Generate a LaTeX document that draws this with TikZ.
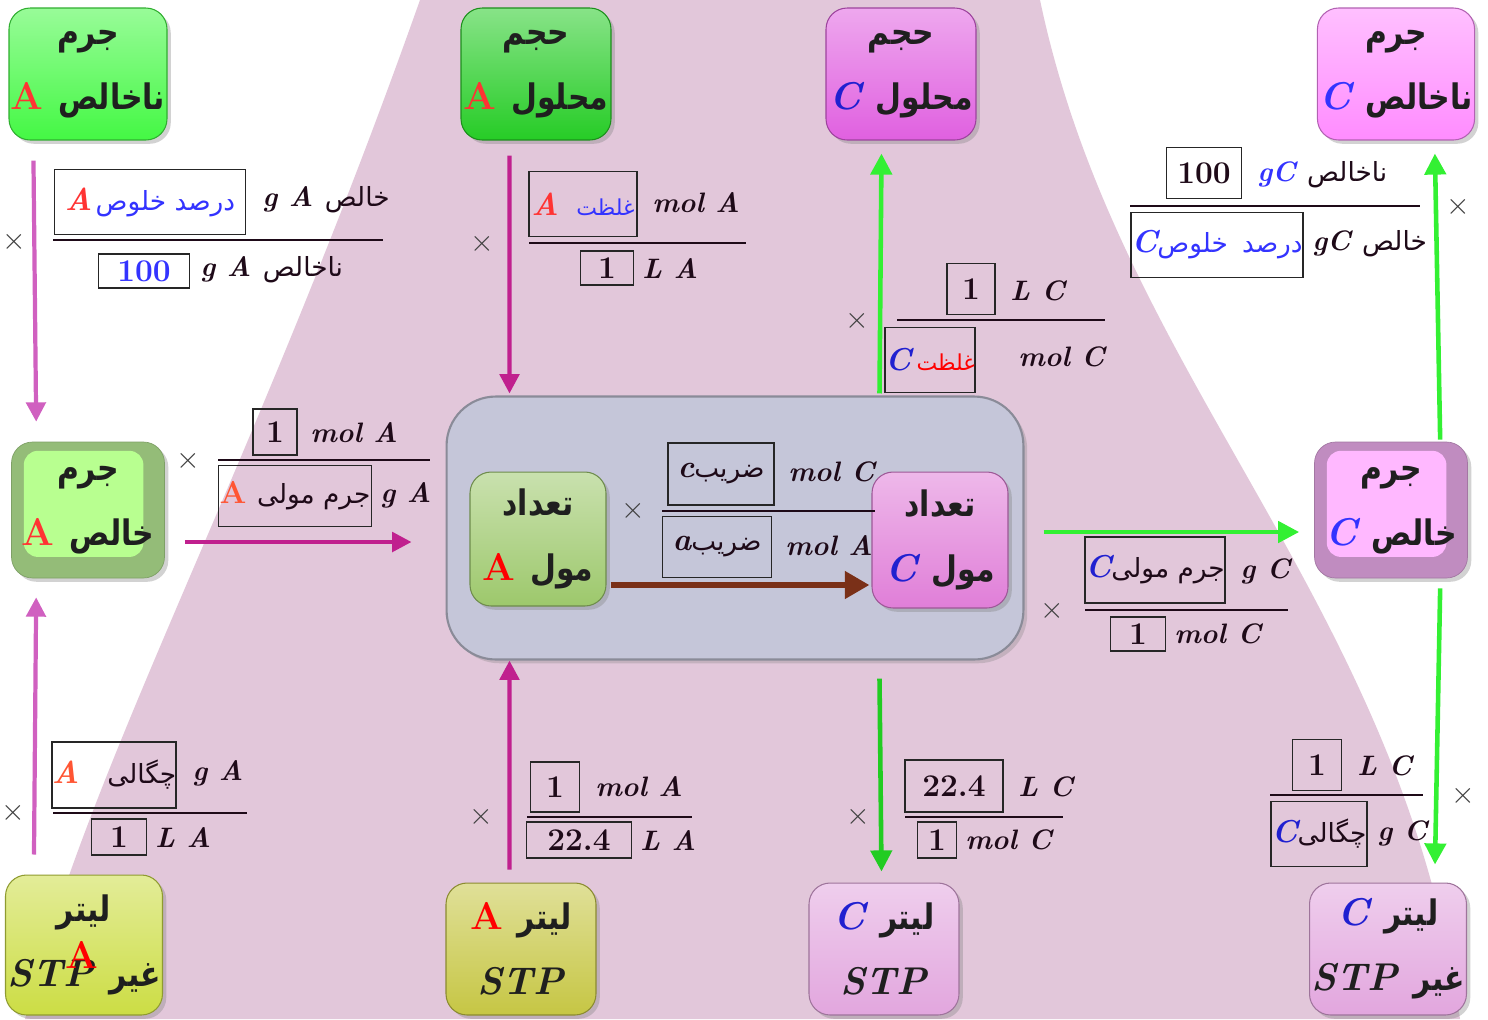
\documentclass[tikz,border=0pt]{standalone}
\usepackage{fontspec}
\usepackage{xcolor}
\usetikzlibrary{arrows.meta,calc,shadows}
\newfontfamily\arabicfont[Script=Arabic]{DejaVu Sans}
\newfontfamily\arabicbold[Script=Arabic,FakeStretch=0.85]{DejaVu Sans}
\TeXXeTstate=1
\newcommand{\prs}[1]{{\arabicfont\mdseries\upshape\fontsize{15}{18}\selectfont\beginR #1\endR}}
\newcommand{\prss}[1]{{\arabicfont\mdseries\upshape\fontsize{12.5}{16}\selectfont\beginR #1\endR}}
\newcommand{\prsb}[1]{{\arabicbold\bfseries\upshape\fontsize{20}{37}\selectfont\beginR #1\endR}}
\newcommand{\bim}[1]{{\bfseries\itshape #1}}
\definecolor{bgpink}{HTML}{E2C7DA}
\definecolor{tgreen}{HTML}{44F844}
\definecolor{tdgreen}{HTML}{26CC26}
\definecolor{tmag}{HTML}{E060E0}
\definecolor{tlmag}{HTML}{FF8CFF}
\definecolor{tlgreen}{HTML}{B8FF90}
\definecolor{rimgreen}{HTML}{94BC78}
\definecolor{tlpink}{HTML}{FFB8FF}
\definecolor{rimpink}{HTML}{C08CC0}
\definecolor{corefill}{HTML}{C5C6D9}
\definecolor{tolive}{HTML}{9DC86C}
\definecolor{tpinkc}{HTML}{E07ED8}
\definecolor{tyel}{HTML}{CCDD44}
\definecolor{tyel2}{HTML}{C6C644}
\definecolor{tlilac}{HTML}{E2A6DE}
\definecolor{amag}{HTML}{D060C0}
\definecolor{admag}{HTML}{C0208E}
\definecolor{agreen}{HTML}{33F033}
\definecolor{adgreen}{HTML}{22CC22}
\definecolor{abrown}{HTML}{7A3018}
\definecolor{tred}{HTML}{FF3333}
\definecolor{tblue}{HTML}{3333FF}
\definecolor{cblue}{HTML}{2020D0}
\definecolor{torange}{HTML}{FF5533}
\definecolor{fink}{HTML}{1E0A18}

\tikzset{
	tile/.style={rounded corners=12pt, minimum width=3cm, minimum height=2.64cm, draw=#1!70!black, line width=.6pt,
		top color=#1!55!white, bottom color=#1, drop shadow={opacity=.35}, align=center, text=black!88,
		inner sep=1pt, font=\fontsize{22}{37}\selectfont\bfseries},
	bevel/.style 2 args={rounded corners=12pt, minimum width=3.06cm, minimum height=2.72cm, fill=#2, draw=#2!85!black,
		drop shadow={opacity=.35}, align=center, text=black!88, inner sep=1pt, font=\fontsize{22}{37}\selectfont\bfseries,
		path picture={\fill[#1, rounded corners=8pt] ([xshift=7pt,yshift=-5pt]path picture bounding box.north west)
			rectangle ([xshift=-12pt,yshift=12pt]path picture bounding box.south east);}},
	corebox/.style={rounded corners=28pt, minimum width=11.54cm, minimum height=5.26cm, fill=corefill,
		draw=corefill!70!black, line width=1.2pt, drop shadow={opacity=.3}},
	fbox/.style 2 args={draw=black!85, line width=1pt, minimum width=#1, minimum height=#2, inner sep=0pt,
		text=fink, font=\fontsize{18}{20}\selectfont},
	ftxt/.style={inner sep=0pt, anchor=west, text=fink, font=\fontsize{16}{20}\selectfont\bfseries\itshape},
	times/.style={inner sep=0pt, text=black!75, font=\fontsize{18}{20}\selectfont},
	fline/.style={draw=fink, line width=1.6pt},
	magline/.style={draw=#1, line width=2.4pt, -{Triangle[length=11pt,width=11pt]}},
	grnline/.style={draw=#1, line width=2.6pt, -{Triangle[length=12pt,width=12pt]}},
	brnline/.style={draw=abrown, line width=3.8pt, -{Triangle[length=14pt,width=15pt]}}
}

\begin{document}
\begin{tikzpicture}[x=0.02cm, y=-0.02cm]
	\useasboundingbox (0,0) rectangle (1488,1019);
	\fill[white] (0,0) rectangle (1488,1019);
	\fill[bgpink] (25,1019) .. controls (90,760) and (250,480) .. (420,0) -- (1040,0) .. controls (1120,380) and (1400,600) .. (1460,1019) -- cycle;

	% tiles
	\node[tile=tgreen] (mAimp) at (88,74) {\prsb{جرم}\\{\color{tred}A} \prsb{ناخالص}};
	\node[tile=tdgreen] (vA) at (536,74) {\prsb{حجم}\\{\color{tred}A} \prsb{محلول}};
	\node[tile=tmag] (vC) at (901,74) {\prsb{حجم}\\{\color{cblue}\itshape C} \prsb{محلول}};
	\node[tile=tlmag] (mCimp) at (1396,74) {\prsb{جرم}\\{\color{tblue}\itshape C} \prsb{ناخالص}};
	\node[bevel={tlgreen}{rimgreen}] (mA) at (88,510) {\prsb{جرم}\\{\color{tred}A} \prsb{خالص}};
	\node[bevel={tlpink}{rimpink}] (mC) at (1391,510) {\prsb{جرم}\\{\color{tblue}\itshape C} \prsb{خالص}};
	\node[corebox] (core) at (735,528) {};
	\node[tile=tolive, minimum width=2.72cm, minimum height=2.68cm] (nA) at (538,539) {\prsb{تعداد}\\{\color{red}A} \prsb{مول}};
	\node[tile=tpinkc, minimum width=2.72cm, minimum height=2.72cm] (nC) at (940,540) {\prsb{تعداد}\\{\color{cblue}\itshape C} \prsb{مول}};
	\node[tile=tyel, minimum height=2.8cm] (lA) at (84,945) {\prsb{لیتر}\\\textit{STP} \prsb{غیر}};
	\node[text=red, inner sep=0pt, font=\fontsize{22}{26}\selectfont\bfseries] (lAmark) at (82,955) {A};
	\node[tile=tyel2] (lAstp) at (521,949) {{\color{red}A} \prsb{لیتر}\\\textit{STP}};
	\node[tile=tlilac] (lCstp) at (884,949) {{\color{cblue}\itshape C} \prsb{لیتر}\\\textit{STP}};
	\node[tile=tlilac] (lC) at (1388,949) {{\color{cblue}\itshape C} \prsb{لیتر}\\\textit{STP} \prsb{غیر}};

	% connectors
	\draw[magline=amag] ($(mAimp.south west)+(25,20)$) -- ($(mA.north west)+(25,-20)$);
	\draw[magline=admag] ($(vA.south west)+(49,15)$) -- ($(core.north west)+(64,-2)$);
	\draw[magline=admag] ($(mA.east)+(20,32)$) -- ($(core.west)+(-34,14)$);
	\draw[magline=amag] ($(lA.north west)+(29,-20)$) -- ($(mA.south west)+(25,19)$);
	\draw[magline=admag] ($(lAstp.north west)+(64,-13)$) -- ($(core.south west)+(64,0)$);
	\draw[brnline] ($(nA.east)+(4,46)$) -- ($(nC.west)+(-2,45)$);
	\draw[grnline=agreen] ($(core.north west)+(434,-2)$) -- ($(vC.south west)+(56,13)$);
	\draw[grnline=agreen] ($(mC.north west)+(126,-2)$) -- ($(mCimp.south west)+(118,13)$);
	\draw[grnline=agreen] ($(core.east)+(19,4)$) -- ($(mC.west)+(-15,22)$);
	\draw[grnline=adgreen] ($(core.south west)+(434,18)$) -- ($(lCstp.north west)+(73,-11)$);
	\draw[grnline=agreen] ($(mC.south west)+(126,10)$) -- ($(lC.north west)+(126,-18)$);

	% factors
	\node[times] (f1x) at (14,242) {$\times$};
	\node[fbox={3.82cm}{1.3cm}] (f1n) at (150,202) {{\color{tred}\bim{A}}\hspace{2pt}{\color{tblue}\prs{درصد خلوص}}};
	\node[ftxt] (f1nt) at (262,200) {g A \prs{خالص}};
	\draw[fline] (53,240) -- (383,240);
	\node[fbox={1.82cm}{0.68cm}] (f1d) at (144,271) {\color{tblue}\bfseries 100};
	\node[ftxt] (f1dt) at (200,270) {g A \prs{ناخالص}};

	\node[times] (f2x) at (482,244) {$\times$};
	\node[fbox={2.16cm}{1.3cm}] (f2n) at (583,204) {{\color{tred}\bim{A}}\hspace{10pt}{\color{tblue}\prss{غلظت}}};
	\node[ftxt] (f2nt) at (652,203) {mol A};
	\draw[fline] (529,243) -- (746,243);
	\node[fbox={1.06cm}{0.68cm}] (f2d) at (607,268) {\bfseries 1};
	\node[ftxt] (f2dt) at (642,268) {L A};

	\node[times] (f3x) at (857,321) {$\times$};
	\node[fbox={0.96cm}{1.02cm}] (f3n) at (971,289) {\bfseries 1};
	\node[ftxt] (f3nt) at (1010,291) {L C};
	\draw[fline] (897,320) -- (1105,320);
	\node[fbox={1.32cm}{1.3cm}] (f3d) at (930,360) {{\color{cblue}\bim{C}}\hspace{3pt}{\color{red}\prss{غلظت}}};
	\node[ftxt] (f3dt) at (1018,357) {mol C};

	\node[times] (f4x) at (1458,207) {$\times$};
	\node[fbox={1.5cm}{1.02cm}] (f4n) at (1204,173) {\bfseries 100};
	\node[ftxt] (f4nt) at (1257,175) {{\color{tblue}gC} \prs{ناخالص}};
	\draw[fline] (1130,206) -- (1420,206);
	\node[fbox={3.44cm}{1.3cm}] (f4d) at (1217,245) {{\color{tblue}\bim{C}}{\color{tblue}\prs{درصد\hspace{8pt}خلوص}}};
	\node[ftxt] (f4dt) at (1312,244) {gC \prs{خالص}};

	\node[times] (f5x) at (188,461) {$\times$};
	\node[fbox={0.88cm}{0.92cm}] (f5n) at (275,432) {\bfseries 1};
	\node[ftxt] (f5nt) at (310,433) {mol A};
	\draw[fline] (218,460) -- (430,460);
	\node[fbox={3.06cm}{1.22cm}] (f5d) at (295,496) {{\color{torange}\bfseries A}\hspace{6pt}\prs{جرم مولی}};
	\node[ftxt] (f5dt) at (380,495) {g A};

	\node[times] (f6x) at (633,511) {$\times$};
	\node[fbox={2.12cm}{1.24cm}] (f6n) at (721,474) {\bim{c}\prs{ضریب}};
	\node[ftxt] (f6nt) at (788,472) {mol C};
	\draw[fline] (662,511) -- (875,511);
	\node[fbox={2.18cm}{1.22cm}] (f6d) at (717,547) {\bim{a}\prs{ضریب}};
	\node[ftxt] (f6dt) at (785,546) {mol A};

	\node[times] (f7x) at (1052,611) {$\times$};
	\node[fbox={2.76cm}{1.32cm}] (f7n) at (1155,570) {{\color{cblue}\bim{C}}\prs{جرم مولی}};
	\node[ftxt] (f7nt) at (1240,571) {g C};
	\draw[fline] (1085,610) -- (1288,610);
	\node[fbox={1.1cm}{0.68cm}] (f7d) at (1138,634) {\bfseries 1};
	\node[ftxt] (f7dt) at (1174,634) {mol C};

	\node[times] (f8x) at (13,813) {$\times$};
	\node[fbox={2.44cm}{1.32cm}] (f8n) at (114,775) {{\color{torange}\bim{A}}\hspace{16pt}\prs{چگالی}};
	\node[ftxt] (f8nt) at (192,773) {g A};
	\draw[fline] (53,813) -- (247,813);
	\node[fbox={1.1cm}{0.72cm}] (f8d) at (119,837) {\bfseries 1};
	\node[ftxt] (f8dt) at (155,837) {L A};

	\node[times] (f9x) at (481,817) {$\times$};
	\node[fbox={0.98cm}{1cm}] (f9n) at (555,787) {\bfseries 1};
	\node[ftxt] (f9nt) at (595,787) {mol A};
	\draw[fline] (527,817) -- (692,817);
	\node[fbox={2.1cm}{0.72cm}] (f9d) at (579,840) {\bfseries 22.4};
	\node[ftxt] (f9dt) at (640,840) {L A};

	\node[times] (f10x) at (858,817) {$\times$};
	\node[fbox={1.96cm}{1.04cm}] (f10n) at (954,786) {\bfseries 22.4};
	\node[ftxt] (f10nt) at (1018,787) {L C};
	\draw[fline] (905,817) -- (1063,817);
	\node[fbox={0.78cm}{0.72cm}] (f10d) at (937,840) {\bfseries 1};
	\node[ftxt] (f10dt) at (965,840) {mol C};

	\node[times] (f11x) at (1463,796) {$\times$};
	\node[fbox={0.98cm}{1.02cm}] (f11n) at (1317,765) {\bfseries 1};
	\node[ftxt] (f11nt) at (1357,766) {L C};
	\draw[fline] (1270,795) -- (1423,795);
	\node[fbox={1.92cm}{1.3cm}] (f11d) at (1319,834) {{\color{cblue}\bim{C}}\prs{چگالی}};
	\node[ftxt] (f11dt) at (1377,833) {g C};
\end{tikzpicture}
\end{document}
